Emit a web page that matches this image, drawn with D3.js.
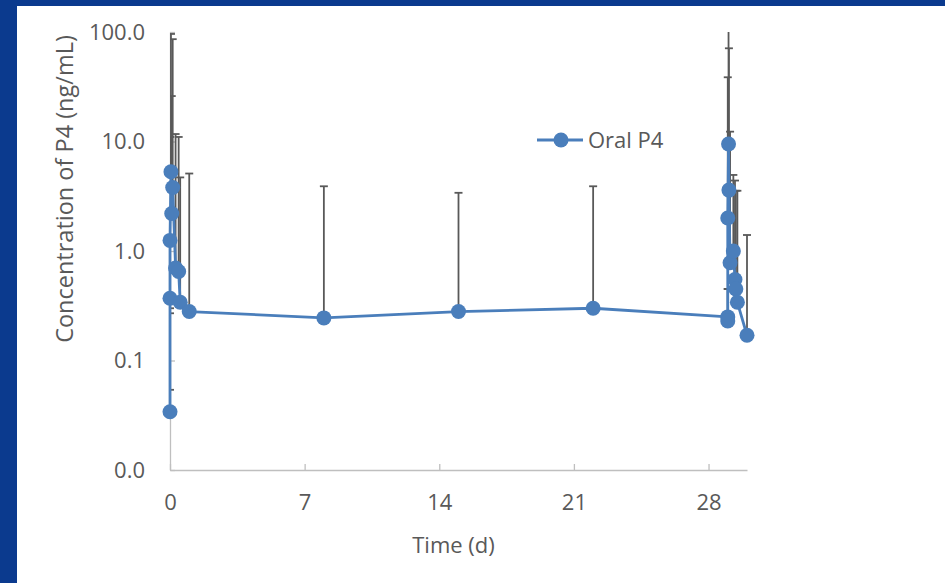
<!DOCTYPE html>
<html>
<head>
<meta charset="utf-8">
<script src="https://cdn.jsdelivr.net/npm/d3@7"></script>
<style>
    body { margin: 0; background: #ffffff; }
    #chart-area svg { display: block; }
    .axis text { font-family: "Open Sans", sans-serif; font-size: 22px; fill: #595959; }
    .axis-title { font-family: "Open Sans", sans-serif; font-size: 22px; fill: #595959; }
</style>
</head>
<body>
<div id="chart-area"></div>
<script>
// sampling times (days) and mean concentration of P4 (ng/mL)
var days = [0, 0, 0, 0.05, 0.09, 0.14, 0.29, 0.45, 0.53, 1,
    8, 15, 22,
    29, 29, 29, 29.04, 29.06, 29.12, 29.29, 29.375, 29.42, 29.5, 30];
var conc = [0.034, 0.37, 1.25, 5.3, 2.2, 3.8, 0.7, 0.65, 0.34, 0.28,
    0.245, 0.28, 0.30,
    0.25, 0.23, 2.0, 9.5, 3.6, 0.78, 1.0, 0.55, 0.45, 0.34, 0.17];
// end of the error bars (mean + SD, mean - SD where it shows on the log axis)
var upperBound = [0.054, 2.5, 11, 96, 26, 86, 11.7, 11, 4.7, 5.1,
    3.9, 3.4, 3.9,
    0.45, 0.45, 38.6, 150, 71, 12.3, 4.95, 4.4, 3.55, 3.55, 1.4];
var lowerBound = [null, 0.30, 0.27, null, null, null, null, null, null, null,
    null, null, null,
    null, null, null, null, null, null, null, null, null, null, null];

var xTicks = [0, 7, 14, 21, 28];
var yTicks = [0.01, 0.1, 1, 10, 100];
var seriesName = "Oral P4";

var data = days.map(function (d, i) {
    return { day: d, value: conc[i], hi: upperBound[i], lo: lowerBound[i] };
});

var width = 945, height = 583;
var margin = { top: 32, right: 198, bottom: 113, left: 170 };
var innerW = width - margin.left - margin.right;
var innerH = height - margin.top - margin.bottom;

var svg = d3.select("#chart-area").append("svg")
    .attr("width", width)
    .attr("height", height);

// slide frame (blue band on left and top)
svg.append("rect").attr("x", 0).attr("y", 0).attr("width", width).attr("height", 6).attr("fill", "#0b3a8e");
svg.append("rect").attr("x", 0).attr("y", 0).attr("width", 17).attr("height", height).attr("fill", "#0b3a8e");

var g = svg.append("g")
    .attr("transform", "translate(" + margin.left + "," + margin.top + ")");

var x = d3.scaleLinear().domain([0, 30]).range([0, innerW]);
var y = d3.scaleLog().domain([0.01, 100]).range([innerH, 0]);

var blue = "#4a7ebb";
var grey = "#595959";
var axisGrey = "#bfbfbf";

// Axes
var xAxis = d3.axisBottom(x).tickValues(xTicks).tickSizeInner(-6).tickSizeOuter(0).tickPadding(24);
var yAxis = d3.axisLeft(y).tickValues(yTicks).tickSizeInner(-5).tickSizeOuter(0).tickPadding(25)
    .tickFormat(d3.format(".1f"));

var gx = g.append("g")
    .attr("class", "x-axis axis")
    .attr("transform", "translate(0," + innerH + ")")
    .call(xAxis);
var gy = g.append("g")
    .attr("class", "y-axis axis")
    .call(yAxis);

[gx, gy].forEach(function (ax) {
    ax.select(".domain").attr("stroke", axisGrey).attr("stroke-width", 1.3);
    ax.selectAll(".tick line").attr("stroke", axisGrey).attr("stroke-width", 1.3);
});

// Error bars are clipped to the plot area like in the original
g.append("clipPath").attr("id", "plot-clip")
    .append("rect")
    .attr("x", 0).attr("y", 0)
    .attr("width", innerW + 20).attr("height", innerH);

var capW = 4;
var errG = g.append("g").attr("clip-path", "url(#plot-clip)");

var bars = errG.selectAll(".err")
    .data(data)
    .enter().append("g")
    .attr("class", "err")
    .attr("stroke", grey)
    .attr("stroke-width", 1.8);

bars.append("line")
    .attr("x1", function (d) { return x(d.day); })
    .attr("x2", function (d) { return x(d.day); })
    .attr("y1", function (d) { return y(d.lo ? d.lo : d.value); })
    .attr("y2", function (d) { return y(d.hi); });

bars.append("line")
    .attr("x1", function (d) { return x(d.day) - capW; })
    .attr("x2", function (d) { return x(d.day) + capW; })
    .attr("y1", function (d) { return y(d.hi); })
    .attr("y2", function (d) { return y(d.hi); });

bars.filter(function (d) { return d.lo; }).append("line")
    .attr("x1", function (d) { return x(d.day) - capW; })
    .attr("x2", function (d) { return x(d.day) + capW; })
    .attr("y1", function (d) { return y(d.lo); })
    .attr("y2", function (d) { return y(d.lo); });

// Line + markers
var line = d3.line()
    .x(function (d) { return x(d.day); })
    .y(function (d) { return y(d.value); });

g.append("path")
    .datum(data)
    .attr("fill", "none")
    .attr("stroke", blue)
    .attr("stroke-width", 2.8)
    .attr("stroke-linejoin", "round")
    .attr("d", line);

g.selectAll(".marker")
    .data(data)
    .enter().append("circle")
    .attr("class", "marker")
    .attr("cx", function (d) { return x(d.day); })
    .attr("cy", function (d) { return y(d.value); })
    .attr("r", 7.5)
    .attr("fill", blue);

// Axis titles
g.append("text")
    .attr("class", "axis-title")
    .attr("x", x(15) - 5)
    .attr("y", innerH + 83)
    .attr("text-anchor", "middle")
    .text("Time (d)");

g.append("text")
    .attr("class", "axis-title")
    .attr("transform", "rotate(-90)")
    .attr("x", -157)
    .attr("y", -97)
    .attr("text-anchor", "middle")
    .style("font-size", "23.5px")
    .text("Concentration of P4 (ng/mL)");

// Legend
var legend = svg.append("g").attr("transform", "translate(537,140)");
legend.append("line")
    .attr("x1", 0).attr("x2", 46)
    .attr("y1", 0).attr("y2", 0)
    .attr("stroke", blue).attr("stroke-width", 2.8);
legend.append("circle").attr("cx", 24).attr("cy", 0).attr("r", 7.5).attr("fill", blue);
legend.append("text")
    .attr("class", "axis-title")
    .attr("x", 51)
    .attr("y", 0)
    .attr("dy", "0.35em")
    .text(seriesName);
</script>
</body>
</html>
